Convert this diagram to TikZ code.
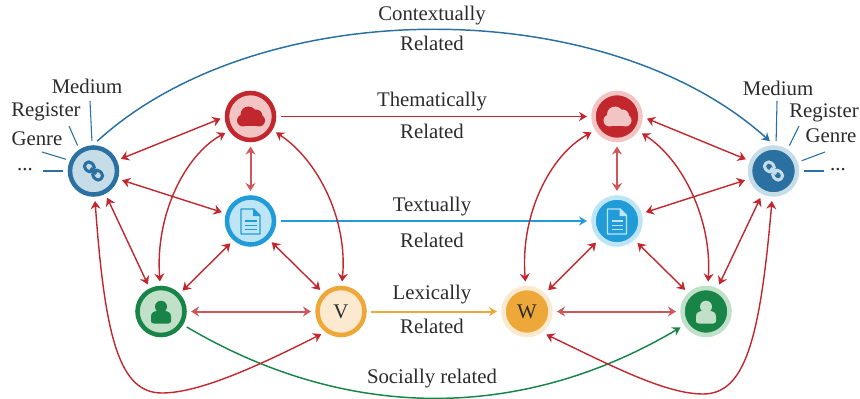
\documentclass[tikz,border=0pt]{standalone}
\usepackage{fontspec}
\setmainfont{Liberation Serif}
\usetikzlibrary{arrows.meta}
\definecolor{cred}{HTML}{C1272D}
\definecolor{credl}{HTML}{F2C4C4}
\definecolor{clink}{HTML}{2A70A0}
\definecolor{clinkl}{HTML}{C6DDE8}
\definecolor{cdoc}{HTML}{219CD8}
\definecolor{cdocl}{HTML}{BDE5F5}
\definecolor{cgrn}{HTML}{188447}
\definecolor{cgrnl}{HTML}{C0E0C8}
\definecolor{corg}{HTML}{EEA83A}
\definecolor{corgl}{HTML}{FBEACF}
\definecolor{ctxt}{HTML}{2B2B2B}
\newcommand{\cloudicon}[3]{\fill[#3] (#1-2,#2-2) circle[radius=8] (#1+5.5,#2-0.5) circle[radius=6.5] (#1-7.5,#2+4) circle[radius=6] (#1+8.5,#2+4) circle[radius=6];
  \fill[#3] (#1-7.5,#2-1) rectangle (#1+8.5,#2+10);}
\newcommand{\docicon}[4]{%
  \draw[#3,line width=1.1pt,line join=round,fill=#4] (#1-9.5,#2-12) -- (#1+3,#2-12) -- (#1+9.5,#2-5.5) -- (#1+9.5,#2+13) -- (#1-9.5,#2+13) -- cycle;
  \fill[#3] (#1+2.5,#2-12) -- (#1+9.5,#2-5) -- (#1+2.5,#2-5) -- cycle;
  \draw[#3,line width=1.1pt] (#1-5.5,#2) -- (#1+6,#2) (#1-5.5,#2+4.3) -- (#1+6,#2+4.3) (#1-5.5,#2+8.6) -- (#1+6,#2+8.6);}
\newcommand{\usericon}[3]{\fill[#3] (#1,#2-4.8) circle[radius=6];
  \fill[#3] (#1-10,#2+9.5) -- (#1-10,#2+5) .. controls (#1-10,#2+1) and (#1-7,#2-0.5) .. (#1-3,#2-0.5) -- (#1+3,#2-0.5) .. controls (#1+7,#2-0.5) and (#1+10,#2+1) .. (#1+10,#2+5) -- (#1+10,#2+9.5) .. controls (#1+10,#2+11) and (#1+9,#2+12) .. (#1+7,#2+12) -- (#1-7,#2+12) .. controls (#1-9,#2+12) and (#1-10,#2+11) .. (#1-10,#2+9.5) -- cycle;}
\newcommand{\linkicon}[3]{\begin{scope}[shift={(#1,#2)},rotate=-45]
  \draw[#3,line width=2.3pt,rounded corners=2.8pt] (-10.8,-4.2) rectangle (-0.9,4.2);
  \draw[#3,line width=2.3pt,rounded corners=2.8pt] (0.9,-4.2) rectangle (10.8,4.2);
  \draw[#3,line width=2.3pt] (-4,0) -- (4,0);
  \end{scope}}
\tikzset{
  x=0.75pt,y=-0.75pt,
  nd/.style={circle,minimum size=35.25pt,line width=3.4pt,outer sep=4.9pt,inner sep=0pt,text=ctxt,font=\fontsize{15.6}{16}\selectfont},
  lbl/.style={text=ctxt,font=\fontsize{15.6}{16}\selectfont,inner sep=0pt},
  rarr/.style={cred,line width=1.05pt,{Stealth[length=6pt,width=7.5pt,inset=2pt]}-{Stealth[length=6pt,width=7.5pt,inset=2pt]}},
  rarrb/.style={rarr,draw=cred!78!white,line width=1.5pt},
  sarr/.style={line width=1.1pt,-{Stealth[length=6pt,width=7pt,inset=2pt]}},
  spoke/.style={clink,line width=0.8pt},
}
\begin{document}
\begin{tikzpicture}
\useasboundingbox (0,0) rectangle (860,399);
% nodes
\node[nd,draw=clink,fill=clinkl] (linkL) at (93.5,171) {};
\node[nd,draw=cred,fill=credl] (cloudL) at (250.5,116.5) {};
\node[nd,draw=cdoc,fill=cdocl] (docL) at (250.5,221) {};
\node[nd,draw=cgrn,fill=cgrnl] (userL) at (161,311.5) {};
\node[nd,draw=corg,fill=corgl] (V) at (341,311.5) {V};
\node[nd,draw=corgl,fill=corg] (W) at (527,311.5) {W};
\node[nd,draw=cgrnl,fill=cgrn] (userR) at (706,311.5) {};
\node[nd,draw=cdocl,fill=cdoc] (docR) at (617,221) {};
\node[nd,draw=credl,fill=cred] (cloudR) at (617,116.5) {};
\node[nd,draw=clinkl,fill=clink] (linkR) at (773.5,171) {};
% icons
\linkicon{93.5}{171}{clink}
\linkicon{773.5}{171}{clinkl}
\cloudicon{250.5}{116.5}{cred}
\cloudicon{617}{116.5}{credl}
\docicon{250.5}{221}{cdoc}{cdocl}
\docicon{617}{221}{cdocl}{cdoc}
\usericon{161}{311.5}{cgrn}
\usericon{706}{311.5}{cgrnl}
% labels
\node[lbl] (tctx) at (432,16) {Contextually};
\node[lbl] (rctx) at (432,43.5) {Related};
\node[lbl] (tthe) at (432,102) {Thematically};
\node[lbl] (rthe) at (432,131.5) {Related};
\node[lbl] (ttex) at (432,207) {Textually};
\node[lbl] (rtex) at (432,240.5) {Related};
\node[lbl] (tlex) at (432,295) {Lexically};
\node[lbl] (rlex) at (432,326.5) {Related};
\node[lbl] (tsoc) at (432,378.5) {Socially related};
\node[lbl] (mL) at (87,86) {Medium};
\node[lbl] (rL) at (46,112) {Register};
\node[lbl] (gL) at (37,139) {Genre};
\node[lbl] (dL) at (25,170) {...};
\node[lbl] (mR) at (778,88) {Medium};
\node[lbl] (rR) at (824,112.5) {Register};
\node[lbl] (gR) at (831,136) {Genre};
\node[lbl] (dR) at (838,170) {...};
% spokes
\coordinate (a1) at (90,101); \coordinate (a2) at (69,126); \coordinate (a3) at (42,152); \coordinate (a4) at (43,171);
\coordinate (b1) at (777,101); \coordinate (b2) at (799,126); \coordinate (b3) at (825,152); \coordinate (b4) at (824,171);
\draw[spoke] (linkL.93) -- (a1);
\draw[spoke] (linkL.122) -- (a2);
\draw[spoke] (linkL.157) -- (a3);
\draw[spoke] (linkL.180) -- (a4);
\draw[spoke] (linkR.85) -- (b1);
\draw[spoke] (linkR.58) -- (b2);
\draw[spoke] (linkR.20) -- (b3);
\draw[spoke] (linkR.0) -- (b4);
% relation arrows
\draw[sarr,clink] (linkL.83) .. controls (260,-7.5) and (605,-7.5) .. (linkR.97);
\draw[sarr,cred] (cloudL.0) -- (cloudR.180);
\draw[sarr,cdoc] (docL.0) -- (docR.180);
\draw[sarr,corg,line width=1.5pt] (V.0) -- (W.180);
\draw[sarr,cgrn] (userL.-31) .. controls (347,421.7) and (521,421.7) .. (userR.212);
% left red
\draw[rarr] (linkL.24) -- (cloudL.184.5);
\draw[rarr] (linkL.-18) -- (docL.163.5);
\draw[rarr] (linkL.-63) -- (userL.116);
\coordinate (botL) at (162,393);
\draw[rarr] (linkL.-87) .. controls (105,340) and (120,393) .. (botL) .. controls (200,393) and (260,365) .. (V.229.6);
\draw[rarr] (cloudL.213) .. controls (185,155) and (155,215) .. (userL.92);
\draw[rarr] (cloudL.-32.5) .. controls (318,160) and (348,220) .. (V.88);
\draw[rarrb] (cloudL.-90) -- (docL.90);
\draw[rarr] (docL.228) -- (userL.44);
\draw[rarr] (docL.-45.6) -- (V.134);
\draw[rarrb] (userL.0) -- (V.180);
% right red
\draw[rarr] (cloudR.-4.6) -- (linkR.157);
\draw[rarr] (docR.17) -- (linkR.198);
\draw[rarrb] (cloudR.-90) -- (docR.90);
\draw[rarr] (docR.226) -- (W.45.6);
\draw[rarr] (docR.-47.5) -- (userR.134);
\draw[rarrb] (W.0) -- (userR.180);
\draw[rarr] (cloudR.212) .. controls (550,155) and (520,215) .. (W.93.6);
\draw[rarr] (cloudR.-34) .. controls (683,160) and (712,220) .. (userR.86);
\draw[rarr] (userR.64) -- (linkR.244);
\coordinate (botR) at (703,394);
\draw[rarr] (W.-50) .. controls (610,365) and (665,394) .. (botR) .. controls (745,394) and (760,340) .. (linkR.267);
\end{tikzpicture}
\end{document}
